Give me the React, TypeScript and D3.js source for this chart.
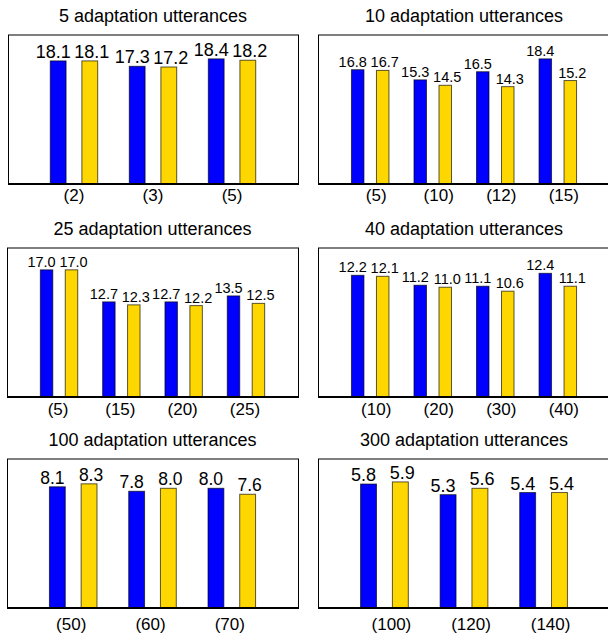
import React from 'react';
import * as d3 from 'd3';

// values, one small set per panel
const titles = [
  '5 adaptation utterances',
  '10 adaptation utterances',
  '25 adaptation utterances',
  '40 adaptation utterances',
  '100 adaptation utterances',
  '300 adaptation utterances'
];

const cats5 = ['(2)', '(3)', '(5)'];
const blue5 = [18.1, 17.3, 18.4];
const gold5 = [18.1, 17.2, 18.2];

const cats10 = ['(5)', '(10)', '(12)', '(15)'];
const blue10 = [16.8, 15.3, 16.5, 18.4];
const gold10 = [16.7, 14.5, 14.3, 15.2];

const cats25 = ['(5)', '(15)', '(20)', '(25)'];
const blue25 = [17.0, 12.7, 12.7, 13.5];
const gold25 = [17.0, 12.3, 12.2, 12.5];

const cats40 = ['(10)', '(20)', '(30)', '(40)'];
const blue40 = [12.2, 11.2, 11.1, 12.4];
const gold40 = [12.1, 11.0, 10.6, 11.1];

const cats100 = ['(50)', '(60)', '(70)'];
const blue100 = [8.1, 7.8, 8.0];
const gold100 = [8.3, 8.0, 7.6];

const cats300 = ['(100)', '(120)', '(140)'];
const blue300 = [5.8, 5.3, 5.4];
const gold300 = [5.9, 5.6, 5.4];

const yMaxes = [22, 22, 20, 15, 10, 7];

const panelData = [
  { cats: cats5, blue: blue5, gold: gold5 },
  { cats: cats10, blue: blue10, gold: gold10 },
  { cats: cats25, blue: blue25, gold: gold25 },
  { cats: cats40, blue: blue40, gold: gold40 },
  { cats: cats100, blue: blue100, gold: gold100 },
  { cats: cats300, blue: blue300, gold: gold300 }
];

// layout of each panel box (pixels)
const layouts = [
  { x0: 8, x1: 298, y0: 34.5, y1: 183.5, labelGap: 17, valueSize: 18, labelDx: 0 },
  { x0: 318, x1: 610, y0: 34.5, y1: 183.5, labelGap: 17, valueSize: 14.5, labelDx: 6 },
  { x0: 7, x1: 298, y0: 247.5, y1: 396.5, labelGap: 18, valueSize: 14.5, labelDx: -1 },
  { x0: 318, x1: 610, y0: 247.5, y1: 396.5, labelGap: 18, valueSize: 14.5, labelDx: 6 },
  { x0: 7, x1: 298, y0: 458.5, y1: 607.5, labelGap: 22, valueSize: 17.5, labelDx: -2 },
  { x0: 318, x1: 610, y0: 458.5, y1: 607.5, labelGap: 22, valueSize: 18, labelDx: 7 }
];

const series = ['blue', 'gold'];
const colors = { blue: '#0000ff', gold: '#ffd700' };
const valueDx = { blue: -5, gold: 2 };
const font = '"Liberation Sans", Arial, sans-serif';

const Panel = ({ idx }: { idx: number }) => {
  const { cats, blue, gold } = panelData[idx];
  const L = layouts[idx];

  const x = d3
    .scaleBand()
    .domain(cats)
    .range([L.x0, L.x1])
    .paddingInner(0)
    .paddingOuter(0.335);

  const step = x.bandwidth();
  const inner = d3
    .scaleBand()
    .domain(series)
    .range([step * 0.2, step * 0.8])
    .paddingInner(0.5)
    .paddingOuter(0);

  const y = d3
    .scaleLinear()
    .domain([0, yMaxes[idx]])
    .range([L.y1, L.y0]);

  const rows = cats.map((c, i) => ({ cat: c, blue: blue[i], gold: gold[i] }));

  return (
    <g>
      <text
        x={(L.x0 + L.x1) / 2}
        y={L.y0 - 12.5}
        textAnchor="middle"
        fontSize={18}
        fontFamily={font}
      >
        {titles[idx]}
      </text>
      <rect
        x={L.x0 + 0.5}
        y={L.y0 + 0.5}
        width={L.x1 - L.x0}
        height={L.y1 - L.y0}
        fill="none"
        stroke="#000"
        strokeWidth={1}
      />
      {rows.map(r => (
        <g key={r.cat}>
          {series.map(s => {
            const v = r[s];
            const bx = x(r.cat) + inner(s);
            return (
              <g key={s}>
                <rect
                  x={bx}
                  y={y(v)}
                  width={inner.bandwidth()}
                  height={y(0) - y(v)}
                  fill={colors[s]}
                  stroke="#000"
                  strokeOpacity={0.65}
                  strokeWidth={1}
                />
                <text
                  x={bx + inner.bandwidth() / 2 + valueDx[s]}
                  y={y(v) - 3}
                  textAnchor="middle"
                  fontSize={L.valueSize}
                  fontFamily={font}
                >
                  {v.toFixed(1)}
                </text>
              </g>
            );
          })}
          <text
            x={x(r.cat) + step / 2 + L.labelDx}
            y={L.y1 + L.labelGap}
            textAnchor="middle"
            fontSize={17}
            fontFamily={font}
          >
            {r.cat}
          </text>
        </g>
      ))}
      <line
        x1={L.x0}
        x2={L.x1 + 1}
        y1={L.y1 + 0.5}
        y2={L.y1 + 0.5}
        stroke="#000"
        strokeWidth={2}
      />
    </g>
  );
};

const App = () => (
  <svg
    width={608}
    height={635}
    style={{ position: 'absolute', left: 0, top: 0, background: '#fff' }}
  >
    {panelData.map((_, i) => (
      <Panel key={i} idx={i} />
    ))}
  </svg>
);

export default App;
